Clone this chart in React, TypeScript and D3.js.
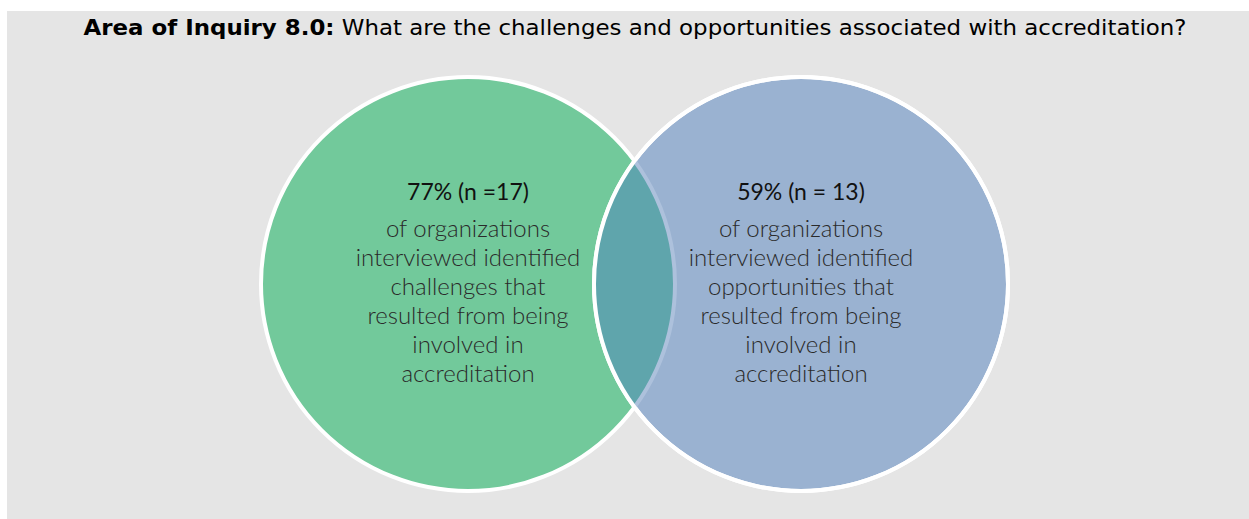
import React from 'react'
import * as d3 from 'd3'

// chart data
const setKeys = ['challenges', 'opportunities']
const percents = [77, 59]
const counts = [17, 13]
const headLabels = ['77% (n =17)', '59% (n = 13)']
const bodyLines = [
  ['of organizations', 'interviewed identified', 'challenges that', 'resulted from being', 'involved in', 'accreditation'],
  ['of organizations', 'interviewed identified', 'opportunities that', 'resulted from being', 'involved in', 'accreditation'],
]
const fills = ['#72c99b', '#9ab2d1']
const overlapFill = '#5fa5ac'

const W = 1249
const H = 519

export default function App() {
  const cx = d3.scalePoint<string>().domain(setKeys).range([468, 801])
  const cy = 284
  const r = 207
  const lineY = d3.scaleLinear().domain([0, 5]).range([237, 382])

  return (
    <svg width={W} height={H} style={{ position: 'absolute', left: 0, top: 0 }}>
      <rect x={7} y={11} width={W - 7} height={H - 11} fill="#e5e5e5" />
      <text x={635} y={35} textAnchor="middle" fontFamily="'DejaVu Sans', sans-serif" fontSize={21}
        fill="#000" textLength={1103} lengthAdjust="spacingAndGlyphs">
        <tspan fontWeight="bold">Area of Inquiry 8.0:</tspan>
        <tspan> What are the challenges and opportunities associated with accreditation?</tspan>
      </text>
      <defs>
        <clipPath id="blueClip">
          <circle cx={cx(setKeys[1])} cy={cy} r={r} />
        </clipPath>
      </defs>
      {setKeys.map((k, i) => (
        <circle key={k} cx={cx(k)} cy={cy} r={r} fill={fills[i]} stroke="#fff" strokeWidth={4} />
      ))}
      {/* intersection */}
      <g clipPath="url(#blueClip)">
        <circle cx={cx(setKeys[0])} cy={cy} r={r} fill={overlapFill} stroke="#adc1dc" strokeWidth={4} />
      </g>
      <circle cx={cx(setKeys[1])} cy={cy} r={r} fill="none" stroke="#fff" strokeWidth={4} />
      {setKeys.map((k, i) => (
        <g key={k + '-t'} fontFamily="Lato, 'Open Sans', sans-serif" textAnchor="middle">
          <text x={cx(k)} y={200} fontSize={23} fill="#111" data-pct={percents[i]} data-n={counts[i]}>
            {headLabels[i]}
          </text>
          {bodyLines[i].map((line, j) => (
            <text key={j} x={cx(k)} y={lineY(j)} fontSize={24} fontWeight={300} fill="#2a2a2a">
              {line}
            </text>
          ))}
        </g>
      ))}
    </svg>
  )
}
